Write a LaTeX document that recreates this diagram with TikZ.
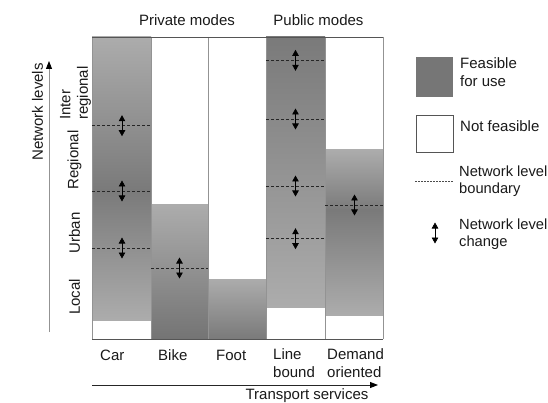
\documentclass[tikz,border=0pt]{standalone}
\usepackage{fontspec}
\setmainfont{Liberation Sans}
\usetikzlibrary{arrows.meta}
\definecolor{shl}{HTML}{ACACAC}
\definecolor{shd}{HTML}{7A7A7A}
\definecolor{sepc}{HTML}{939393}
\definecolor{framec}{HTML}{555555}
\definecolor{txtc}{HTML}{1A1A1A}
\begin{document}
\begin{tikzpicture}[x=1pt,y=-1pt,
  txt/.style={font=\fontsize{15}{17.5}\selectfont, inner sep=0pt, text=txtc},
  txtn/.style={font=\fontsize{14.7}{17}\selectfont, inner sep=0pt, text=txtc},
  colline/.style={draw=sepc, line width=0.8pt},
  frameline/.style={draw=framec, line width=0.8pt},
  lvlb/.style={dash pattern=on 3pt off 2pt, line width=0.6pt, draw=black!85},
  lvlc/.style={{Triangle[width=6.5pt,length=6pt]}-{Triangle[width=6.5pt,length=6pt]}, line width=0.6pt, draw=black},
  axisarrow/.style={-{Triangle[width=6pt,length=8pt,black]}, line width=0.9pt},
]
\useasboundingbox (0,0) rectangle (548,403);
\fill[white] (0,0) rectangle (548,403);

% ---- columns (shaded pieces)
% Car
\fill[top color=shl,bottom color=shd] (92,37) rectangle (151,190.5);
\fill[top color=shd,bottom color=shl] (92,190) rectangle (151,320);
% Bike
\fill[top color=shl,bottom color=shd!95!black] (151,205) rectangle (208,339);
% Foot
\fill[top color=shl,bottom color=shd] (208,279) rectangle (266,339);
% Line bound
\fill[top color=shd,bottom color=shl] (266,37) rectangle (325,307);
% Demand oriented
\fill[top color=shl,bottom color=shd] (325,150) rectangle (383,210.5);
\fill[top color=shd,bottom color=shl] (325,210) rectangle (383,315);

% ---- column separators and frame
\foreach \xx in {92,151,208,266,325,383} \draw[colline] (\xx,37) -- (\xx,339);
\draw[frameline] (92,37) -- (383,37);
\draw[frameline] (92,339) -- (383,339);

% ---- network level boundaries
\draw[lvlb] (92,125.7) -- (151,125.7);
\draw[lvlb] (92,191) -- (151,191);
\draw[lvlb] (92,248) -- (151,248);
\draw[lvlb] (151,268) -- (208,268);
\draw[lvlb] (266,60.3) -- (325,60.3);
\draw[lvlb] (266,119) -- (325,119);
\draw[lvlb] (266,186) -- (325,186);
\draw[lvlb] (266,238.7) -- (325,238.7);
\draw[lvlb] (325,205) -- (383,205);

% ---- network level change arrows
\coordinate (ca1) at (122,115.2); \coordinate (cb1) at (122,136.2);
\coordinate (ca2) at (122,180.5); \coordinate (cb2) at (122,201.5);
\coordinate (ca3) at (122,237.5); \coordinate (cb3) at (122,258.5);
\coordinate (ba1) at (179.5,257.5); \coordinate (bb1) at (179.5,278.5);
\coordinate (la1) at (295.5,49.8); \coordinate (lb1) at (295.5,70.8);
\coordinate (la2) at (295.5,108.5); \coordinate (lb2) at (295.5,129.5);
\coordinate (la3) at (295.5,175.5); \coordinate (lb3) at (295.5,196.5);
\coordinate (la4) at (295.5,228.2); \coordinate (lb4) at (295.5,249.2);
\coordinate (da1) at (354.5,194.5); \coordinate (db1) at (354.5,215.5);
\draw[lvlc] (ca1) -- (cb1);
\draw[lvlc] (ca2) -- (cb2);
\draw[lvlc] (ca3) -- (cb3);
\draw[lvlc] (ba1) -- (bb1);
\draw[lvlc] (la1) -- (lb1);
\draw[lvlc] (la2) -- (lb2);
\draw[lvlc] (la3) -- (lb3);
\draw[lvlc] (la4) -- (lb4);
\draw[lvlc] (da1) -- (db1);

% ---- group titles
\node[txt, anchor=base] (priv) at (187,26) {Private modes};
\node[txt, anchor=base] (publ) at (318.5,26) {Public modes};

% ---- column labels
\node[txt, anchor=base west] (lcar) at (100,360) {Car};
\node[txt, anchor=base west] (lbike) at (158,360) {Bike};
\node[txt, anchor=base west] (lfoot) at (216,360) {Foot};
\node[txt, anchor=base west, align=left] (lline) at (273,377) {Line\\bound};
\node[txt, anchor=base west, align=left] (ldem) at (327,377) {Demand\\oriented};

% ---- axes
\coordinate (ya) at (49,332); \coordinate (yb) at (49,61);
\draw[axisarrow, draw=sepc] (ya) -- (yb);
\node[txt, rotate=90] (nl) at (37.5,112) {Network levels};
\coordinate (xa) at (92,385); \coordinate (xb) at (378,385);
\draw[axisarrow, draw=black!85] (xa) -- (xb);
\node[txt, anchor=base] (ts) at (307,399.5) {Transport services};

% ---- level labels
\node[txt, rotate=90, anchor=west, align=left] (linter) at (75.5,120) {Inter\\regional};
\node[txt, rotate=90] (lreg) at (74.5,160) {Regional};
\node[txt, rotate=90] (lurb) at (74.5,233) {Urban};
\node[txt, rotate=90] (lloc) at (74.5,297) {Local};

% ---- legend
\fill[shd!97!black] (416,57) rectangle (453,97);
\node[txt, anchor=base west, align=left] (lgf) at (460,86.5) {Feasible\\for use};
\draw[draw=framec, line width=0.7pt, fill=white] (416,115) rectangle (453,152.5);
\node[txt, anchor=base west] (lgn) at (460,132) {Not feasible};
\coordinate (lda) at (415,181) ; \coordinate (ldb) at (453,181);
\draw[dash pattern=on 2pt off 1pt, line width=0.5pt, draw=black!70] (lda) -- (ldb);
\node[txtn, anchor=base west, align=left] (lgb) at (459,193.5) {Network level\\boundary};
\coordinate (laa) at (435,222.5); \coordinate (lab) at (435,243.5);
\draw[lvlc] (laa) -- (lab);
\node[txtn, anchor=base west, align=left] (lgc) at (459,246) {Network level\\change};
\end{tikzpicture}
\end{document}
